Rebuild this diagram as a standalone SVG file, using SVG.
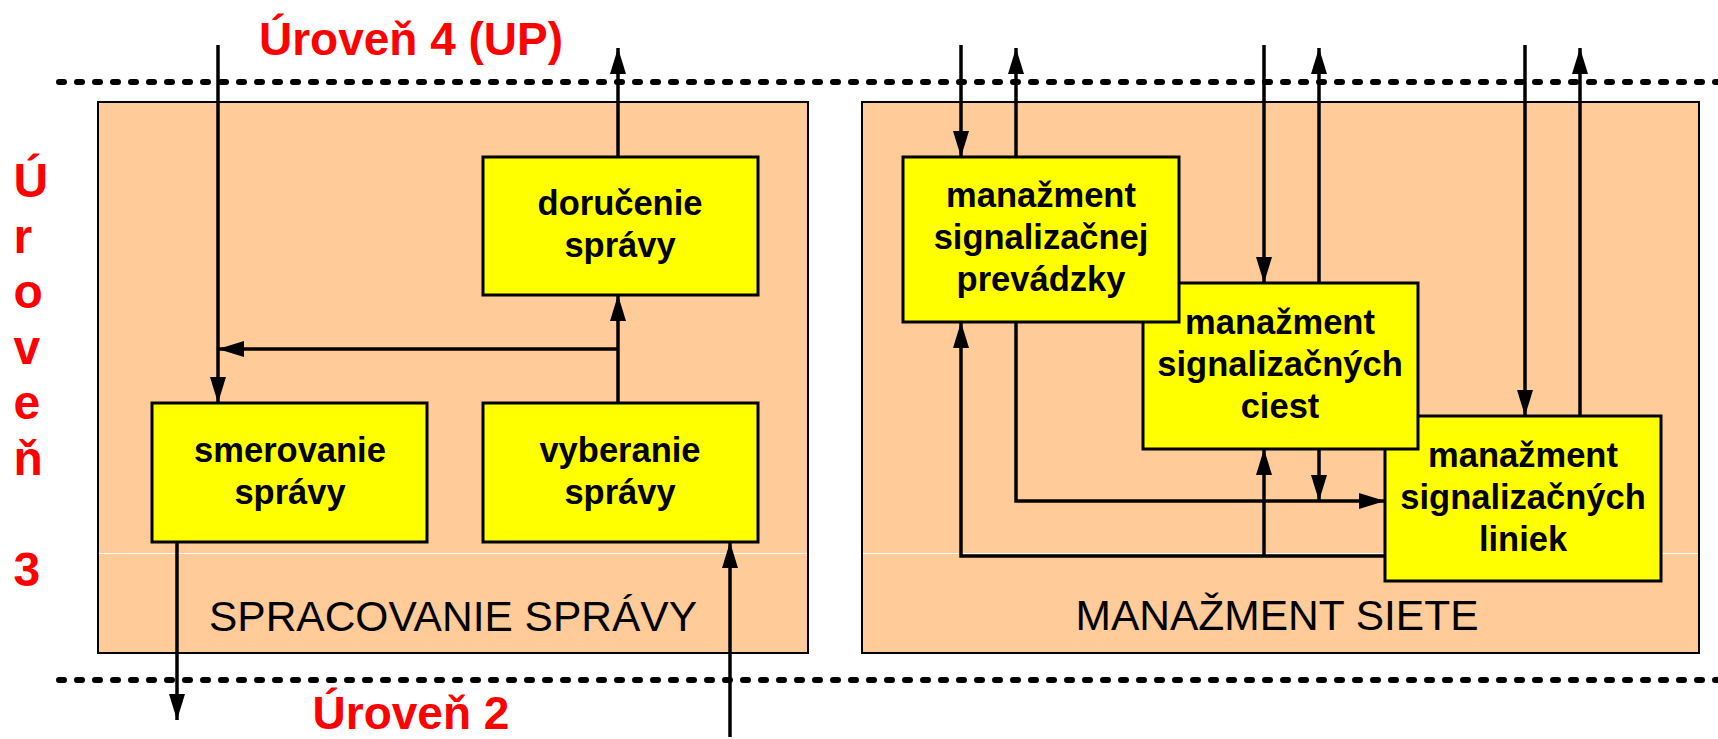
<svg xmlns="http://www.w3.org/2000/svg" width="1718" height="739" viewBox="0 0 1718 739">
<style>
.panel{fill:#FFCC99;stroke:#000;stroke-width:2}
.sep{stroke:#FFFFFF;stroke-width:1.2}
.dots{fill:none;stroke:#000;stroke-width:6;stroke-linecap:round;stroke-dasharray:5 13}
.node rect{fill:#FFFF00;stroke:#000;stroke-width:3}
.node text{font-family:"Liberation Sans",Arial,sans-serif;font-weight:bold;font-size:34.5px;fill:#000;text-anchor:middle}
.lvl{font-family:"Liberation Sans",Arial,sans-serif;font-weight:bold;fill:#FF0000}
.title{font-family:"Liberation Sans",Arial,sans-serif;font-size:42.5px;fill:#000;text-anchor:middle}
.conn path{fill:none;stroke:#000;stroke-width:3.5}
</style>
<defs>
<marker id="ah" markerUnits="userSpaceOnUse" markerWidth="26" markerHeight="16" refX="26" refY="8" orient="auto">
<path d="M0,0 L26,8 L0,16 z" fill="#000"/>
</marker>
</defs>
<rect width="1718" height="739" fill="#FFFFFF"/>
<g id="panel-spracovanie">
<rect class="panel" x="98" y="102" width="710" height="551"/>
<line class="sep" x1="99" y1="553.5" x2="807" y2="553.5"/>
<text class="title" x="453" y="631">SPRACOVANIE SPRÁVY</text>
</g>
<g id="panel-manazment">
<rect class="panel" x="862" y="102" width="837" height="551"/>
<line class="sep" x1="863" y1="553.5" x2="1698" y2="553.5"/>
<text class="title" x="1277" y="630">MANAŽMENT SIETE</text>
</g>
<g id="level-lines">
<line class="dots" x1="59" y1="82" x2="1718" y2="82"/>
<line class="dots" x1="59" y1="680" x2="1718" y2="680"/>
</g>
<g id="level-labels">
<text class="lvl" x="411" y="55" font-size="46" text-anchor="middle">Úroveň 4 (UP)</text>
<text class="lvl" x="411" y="729" font-size="46" text-anchor="middle">Úroveň 2</text>
<text class="lvl" font-size="48">
<tspan x="13.5" y="197">Ú</tspan>
<tspan x="13.5" y="252.5">r</tspan>
<tspan x="13.5" y="308">o</tspan>
<tspan x="13.5" y="363.5">v</tspan>
<tspan x="13.5" y="419">e</tspan>
<tspan x="13.5" y="474.5">ň</tspan>
<tspan x="13.5" y="585.5">3</tspan>
</text>
</g>
<g id="connectors" class="conn">
<path d="M218,45 V403" marker-end="url(#ah)"/>
<path d="M618,157 V48" marker-end="url(#ah)"/>
<path d="M618,403 V295" marker-end="url(#ah)"/>
<path d="M618,349 H218" marker-end="url(#ah)"/>
<path d="M177,542 V720" marker-end="url(#ah)"/>
<path d="M730,737 V542" marker-end="url(#ah)"/>
<path d="M961,45 V157" marker-end="url(#ah)"/>
<path d="M1016,157 V48" marker-end="url(#ah)"/>
<path d="M1264,45 V283" marker-end="url(#ah)"/>
<path d="M1319,283 V48" marker-end="url(#ah)"/>
<path d="M1525,45 V416" marker-end="url(#ah)"/>
<path d="M1580,416 V48" marker-end="url(#ah)"/>
<path d="M1016,322 V501 H1385" marker-end="url(#ah)"/>
<path d="M1319,449 V501" marker-end="url(#ah)"/>
<path d="M1385,556 H961 V322" marker-end="url(#ah)"/>
<path d="M1264,556 V449" marker-end="url(#ah)"/>
</g>
<g id="node-dorucenie" class="node">
<rect x="483" y="157" width="275" height="138"/>
<text><tspan x="620" y="215">doručenie</tspan><tspan x="620" y="257">správy</tspan></text>
</g>
<g id="node-smerovanie" class="node">
<rect x="152" y="403" width="275" height="139"/>
<text><tspan x="290" y="461.5">smerovanie</tspan><tspan x="290" y="503.5">správy</tspan></text>
</g>
<g id="node-vyberanie" class="node">
<rect x="483" y="403" width="275" height="139"/>
<text><tspan x="620" y="461.5">vyberanie</tspan><tspan x="620" y="503.5">správy</tspan></text>
</g>
<g id="node-liniek" class="node">
<rect x="1385" y="416" width="276" height="165"/>
<text><tspan x="1523" y="466.5">manažment</tspan><tspan x="1523" y="508.5">signalizačných</tspan><tspan x="1523" y="550.5">liniek</tspan></text>
</g>
<g id="node-ciest" class="node">
<rect x="1143" y="283" width="275" height="166"/>
<text><tspan x="1280" y="334">manažment</tspan><tspan x="1280" y="376">signalizačných</tspan><tspan x="1280" y="418">ciest</tspan></text>
</g>
<g id="node-prevadzky" class="node">
<rect x="903" y="157" width="276" height="165"/>
<text><tspan x="1041" y="207">manažment</tspan><tspan x="1041" y="249">signalizačnej</tspan><tspan x="1041" y="291">prevádzky</tspan></text>
</g>
</svg>
